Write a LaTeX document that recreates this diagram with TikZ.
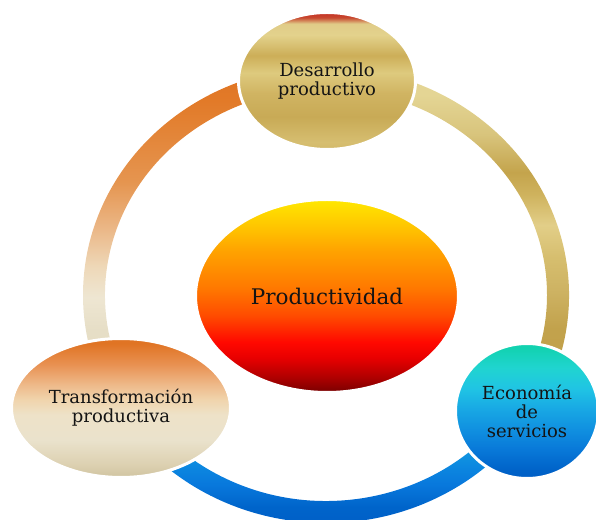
\documentclass[tikz,border=0pt]{standalone}
\usepackage{fontspec}
\setmainfont{DejaVu Serif}
\usetikzlibrary{shapes.geometric,calc}

% centre ellipse colours
\definecolor{pa}{HTML}{780000}
\definecolor{pb}{HTML}{B00000}
\definecolor{pc}{HTML}{E80000}
\definecolor{pd}{HTML}{FF0800}
\definecolor{pe}{HTML}{FF4C00}
\definecolor{pf}{HTML}{FF7800}
\definecolor{pg}{HTML}{FFA400}
\definecolor{ph}{HTML}{FFC000}
\definecolor{pi}{HTML}{FFE800}
\pgfdeclareverticalshading{prodsh}{100bp}{color(0bp)=(pa); color(25bp)=(pa); color(29bp)=(pb); color(34bp)=(pc); color(38bp)=(pd); color(45bp)=(pe); color(52bp)=(pf); color(62bp)=(pg); color(67bp)=(ph); color(75bp)=(pi); color(100bp)=(pi)}

% top ellipse (gold with red cap)
\definecolor{ta}{HTML}{D2B868}
\definecolor{tb}{HTML}{D6BE70}
\definecolor{tc}{HTML}{C8AA56}
\definecolor{td}{HTML}{D0B462}
\definecolor{te}{HTML}{DECA7E}
\definecolor{tf}{HTML}{CCAE58}
\definecolor{tg}{HTML}{E3D28C}
\definecolor{th}{HTML}{E0CC88}
\definecolor{ti}{HTML}{C84A30}
\definecolor{tj}{HTML}{C42E22}
\pgfdeclareverticalshading{topsh}{100bp}{color(0bp)=(ta); color(25bp)=(ta); color(27.6bp)=(tb); color(37bp)=(tc); color(45.5bp)=(td); color(53bp)=(te); color(59.3bp)=(tf); color(66.8bp)=(tg); color(70.9bp)=(th); color(73.1bp)=(ti); color(75bp)=(tj); color(100bp)=(tj)}

% left ellipse (orange to cream)
\definecolor{la}{HTML}{D0C4A0}
\definecolor{lb}{HTML}{DCD0B0}
\definecolor{lc}{HTML}{EAE2CC}
\definecolor{ld}{HTML}{EEE2C8}
\definecolor{le}{HTML}{F0D4AC}
\definecolor{lf}{HTML}{EEB888}
\definecolor{lg}{HTML}{E89050}
\definecolor{lh}{HTML}{E07424}
\pgfdeclareverticalshading{leftsh}{100bp}{color(0bp)=(la); color(25bp)=(la); color(29.4bp)=(lb); color(38.5bp)=(lc); color(47.6bp)=(ld); color(53.1bp)=(le); color(58.6bp)=(lf); color(65.9bp)=(lg); color(73.2bp)=(lh); color(100bp)=(lh)}

% right circle (teal to blue)
\definecolor{ra}{HTML}{005EC6}
\definecolor{rb}{HTML}{0062C8}
\definecolor{rc}{HTML}{0878D8}
\definecolor{rd}{HTML}{1090E0}
\definecolor{re}{HTML}{18A8E4}
\definecolor{rf}{HTML}{20C4E4}
\definecolor{rg}{HTML}{20D4D0}
\definecolor{rh}{HTML}{12D2B0}
\pgfdeclareverticalshading{rightsh}{100bp}{color(0bp)=(ra); color(25bp)=(ra); color(28bp)=(rb); color(35.6bp)=(rc); color(43.2bp)=(rd); color(50.8bp)=(re); color(58.3bp)=(rf); color(65.9bp)=(rg); color(73.5bp)=(rh); color(100bp)=(rh)}

% orange arc
\definecolor{oa}{HTML}{E2D8BE}
\definecolor{ob}{HTML}{E6DEC6}
\definecolor{oc}{HTML}{EEE6D2}
\definecolor{od}{HTML}{EED8B8}
\definecolor{oe}{HTML}{EBB888}
\definecolor{of}{HTML}{E59550}
\definecolor{og}{HTML}{E27A28}
\definecolor{oh}{HTML}{E07424}
\pgfdeclareverticalshading{orangearcsh}{100bp}{color(0bp)=(oa); color(25bp)=(oa); color(36bp)=(ob); color(41bp)=(oc); color(45.5bp)=(od); color(51bp)=(oe); color(58bp)=(of); color(70bp)=(og); color(75bp)=(oh); color(100bp)=(oh)}

% gold arc
\definecolor{ga}{HTML}{C09E48}
\definecolor{gb}{HTML}{C2A24C}
\definecolor{gc}{HTML}{CDB262}
\definecolor{gd}{HTML}{D6BE6E}
\definecolor{ge}{HTML}{E2CE88}
\definecolor{gf}{HTML}{CFB35E}
\definecolor{gg}{HTML}{C4A44C}
\definecolor{gh}{HTML}{D8C47C}
\definecolor{gi}{HTML}{E4D594}
\pgfdeclareverticalshading{goldarcsh}{100bp}{color(0bp)=(ga); color(25bp)=(ga); color(36.8bp)=(gb); color(42.1bp)=(gc); color(47.1bp)=(gd); color(51.9bp)=(ge); color(56.3bp)=(gf); color(59.6bp)=(gg); color(65.1bp)=(gh); color(70.9bp)=(gi); color(100bp)=(gi)}

% blue arc
\definecolor{ba}{HTML}{0056C2}
\definecolor{bb}{HTML}{0064CA}
\definecolor{bc}{HTML}{0878DC}
\definecolor{bd}{HTML}{0C88E0}
\definecolor{be}{HTML}{1298E0}
\definecolor{bf}{HTML}{18B4E0}
\pgfdeclareverticalshading{bluearcsh}{100bp}{color(0bp)=(ba); color(25bp)=(ba); color(40bp)=(bb); color(47bp)=(bc); color(53bp)=(bd); color(58bp)=(be); color(66bp)=(bf); color(100bp)=(bf)}

\definecolor{txt}{HTML}{141414}

\begin{document}
\begin{tikzpicture}[x=1pt,y=1pt,
  bubble/.style={ellipse, inner sep=0pt, draw=white, line width=3pt, shade,
    text=txt, align=center, font=\fontsize{18}{19}\selectfont},
  ringpart/.style={draw=none}]
\useasboundingbox (0,0) rectangle (596,519);
\clip (0,0) rectangle (596,519);
\coordinate (c) at (326,224);

% ring segments
\shade[ringpart, shading=orangearcsh]
  ($(c)+(90:243pt and 228pt)$) arc[start angle=90, end angle=209, x radius=243pt, y radius=228pt]
  -- ($(c)+(209:221pt and 206pt)$) arc[start angle=209, end angle=90, x radius=221pt, y radius=206pt] -- cycle;
\shade[ringpart, shading=goldarcsh]
  ($(c)+(-30:243pt and 228pt)$) arc[start angle=-30, end angle=90, x radius=243pt, y radius=228pt]
  -- ($(c)+(90:221pt and 206pt)$) arc[start angle=90, end angle=-30, x radius=221pt, y radius=206pt] -- cycle;
\shade[ringpart, shading=bluearcsh]
  ($(c)+(209:243pt and 228pt)$) arc[start angle=209, end angle=330, x radius=243pt, y radius=228pt]
  -- ($(c)+(330:221pt and 206pt)$) arc[start angle=330, end angle=209, x radius=221pt, y radius=206pt] -- cycle;

% nodes
\node[bubble, shading=prodsh, minimum width=263pt, minimum height=193pt,
      font=\fontsize{21.5}{24}\selectfont] (prod) at (327,223) {Productividad};
\node[bubble, shading=topsh, minimum width=177pt, minimum height=137pt] (des) at (327,438) {Desarrollo\\productivo};
\node[bubble, shading=leftsh, minimum width=219pt, minimum height=139pt] (trans) at (121,111) {Transformación\\productiva};
\node[bubble, shading=rightsh, minimum width=143pt, minimum height=135pt] (eco) at (527,108) {Economía\\de\\servicios};
\end{tikzpicture}
\end{document}
